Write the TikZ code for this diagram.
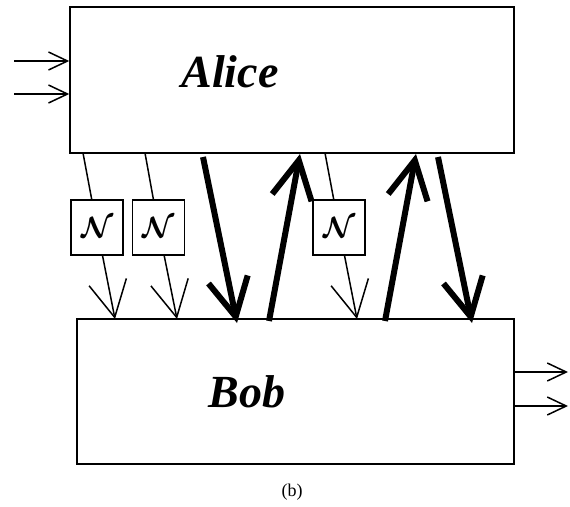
\documentclass[tikz,border=0pt]{standalone}
\usepackage{bm}
\usepackage{fontspec}
\setmainfont{Liberation Serif}
\usetikzlibrary{arrows.meta}
\begin{document}
\begin{tikzpicture}[x=1pt,y=-1pt,
  box/.style={draw,line width=1.5pt,inner sep=0pt},
  noisebox/.style={draw,line width=1.6pt,inner sep=0pt,minimum width=52pt,minimum height=55pt},
  thinline/.style={line width=1.5pt},
  thinarrow/.style={line width=1.5pt,-{Straight Barb[length=36pt,width=38pt]}},
  thickarrow/.style={line width=6pt,-{Straight Barb[length=38pt,width=40pt]}},
  ioarrow/.style={line width=1.5pt,-{Straight Barb[length=19pt,width=18pt]}},
  persname/.style={font=\fontsize{46}{46}\selectfont\bfseries\itshape}]
\newcommand{\noisesym}{\scalebox{1.7}{\LARGE$\bm{\mathcal{N}}$}}
\useasboundingbox (0,0) rectangle (570,506);
% boxes
\node[box,minimum width=444pt,minimum height=146pt] (alice) at (292,80) {};
\node[box,minimum width=437pt,minimum height=145pt] (bob) at (295.5,391.5) {};
\node[persname] (alicetxt) at (230,72) {Alice};
\node[persname] (bobtxt) at (247,392) {Bob};
% noise boxes
\node[noisebox] (n1) at (97,227.5) {\noisesym};
\node[noisebox] (n2) at (158.5,227.5) {\noisesym};
\node[noisebox] (n3) at (339,227.5) {\noisesym};
% anchor coordinates
\coordinate (a1) at (83,153);
\coordinate (b1) at (115,319);
\coordinate (a2) at (145,153);
\coordinate (b2) at (177,319);
\coordinate (a3) at (325,153);
\coordinate (b3) at (357,319);
\coordinate (t1s) at (203,157);
\coordinate (t1e) at (237,323);
\coordinate (t2s) at (269,321);
\coordinate (t2e) at (300,154);
\coordinate (t3s) at (385,321);
\coordinate (t3e) at (416,154);
\coordinate (t4s) at (438,157);
\coordinate (t4e) at (472,323);
\coordinate (in1) at (14,61);
\coordinate (in2) at (14,94);
\coordinate (out1) at (568,372);
\coordinate (out2) at (568,406);
% noisy channels
\draw[thinline] (a1) -- (n1);
\draw[thinarrow] (n1) -- (b1);
\draw[thinline] (a2) -- (n2);
\draw[thinarrow] (n2) -- (b2);
\draw[thinline] (a3) -- (n3);
\draw[thinarrow] (n3) -- (b3);
% thick channels
\draw[thickarrow] (t1s) -- (t1e);
\draw[thickarrow] (t2s) -- (t2e);
\draw[thickarrow] (t3s) -- (t3e);
\draw[thickarrow] (t4s) -- (t4e);
% inputs / outputs
\draw[ioarrow] (in1) -- (in1 -| alice.west);
\draw[ioarrow] (in2) -- (in2 -| alice.west);
\draw[ioarrow] (out1 -| bob.east) -- (out1);
\draw[ioarrow] (out2 -| bob.east) -- (out2);
% caption
\node[font=\fontsize{18}{18}\selectfont] (cap) at (292,492) {(b)};
\end{tikzpicture}
\end{document}
